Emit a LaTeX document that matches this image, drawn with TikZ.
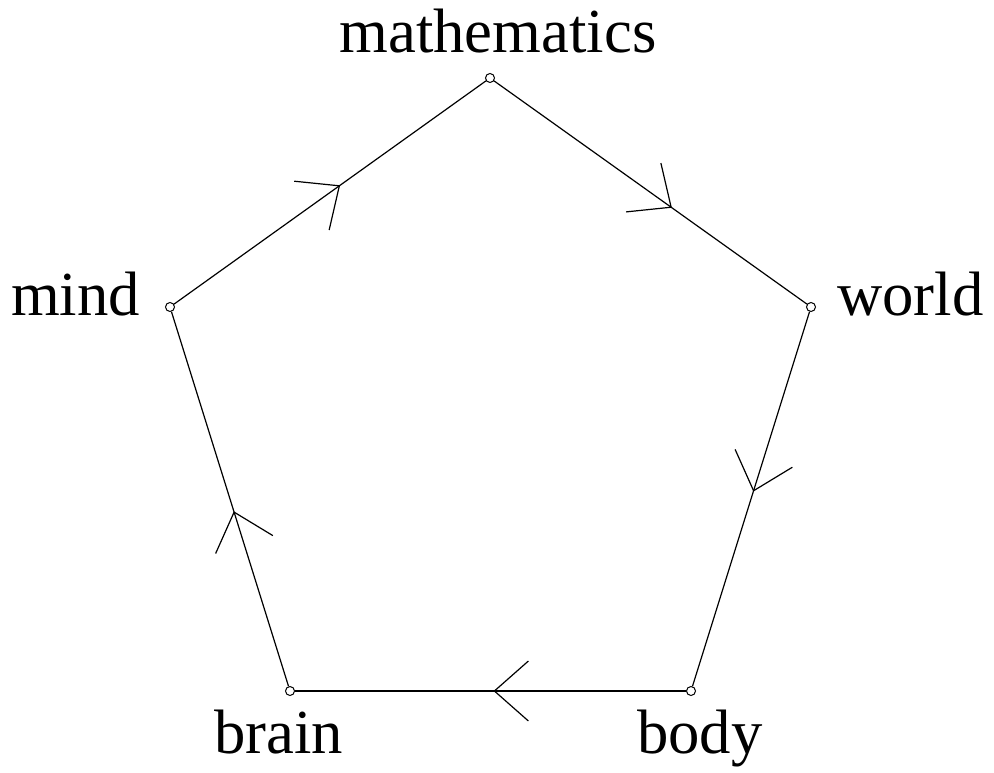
\documentclass[tikz,border=0pt]{standalone}
\usepackage{fontspec}
\setmainfont{Liberation Serif}
\usetikzlibrary{decorations.markings}
\begin{document}
\begin{tikzpicture}[x=1pt,y=-1pt,
  vtx/.style={circle,draw,fill=white,minimum size=9pt,inner sep=0pt,line width=1pt},
  lbl/.style={inner sep=0pt,font=\fontsize{62.7}{70}\selectfont},
  edge/.style={line width=1.2pt,postaction={decorate},
    decoration={markings,mark=at position #1 with {\draw[line width=1.2pt] (-34pt,30pt) -- (0pt,0pt) -- (-34pt,-30pt);}}}]
\useasboundingbox (0,0) rectangle (994,773);
\node[vtx] (m) at (490,78) {};
\node[vtx] (w) at (811,307) {};
\node[vtx] (b) at (691,691) {};
\node[vtx] (r) at (290,691) {};
\node[vtx] (n) at (170,307) {};
\draw[edge=0.53] (n) -- (m);
\draw[edge=0.566] (m) -- (w);
\draw[edge=0.478] (w) -- (b);
\draw[edge=0.49] (b) -- (r);
\draw[edge=0.465] (r) -- (n);
\node[lbl,anchor=base] (tm) at (498,53) {mathematics};
\node[lbl,anchor=base west] (tw) at (837,315) {world};
\node[lbl,anchor=base west] (tb) at (637,753) {body};
\node[lbl,anchor=base west] (tr) at (214,753) {brain};
\node[lbl,anchor=base west] (tn) at (11,315) {mind};
\end{tikzpicture}
\end{document}
